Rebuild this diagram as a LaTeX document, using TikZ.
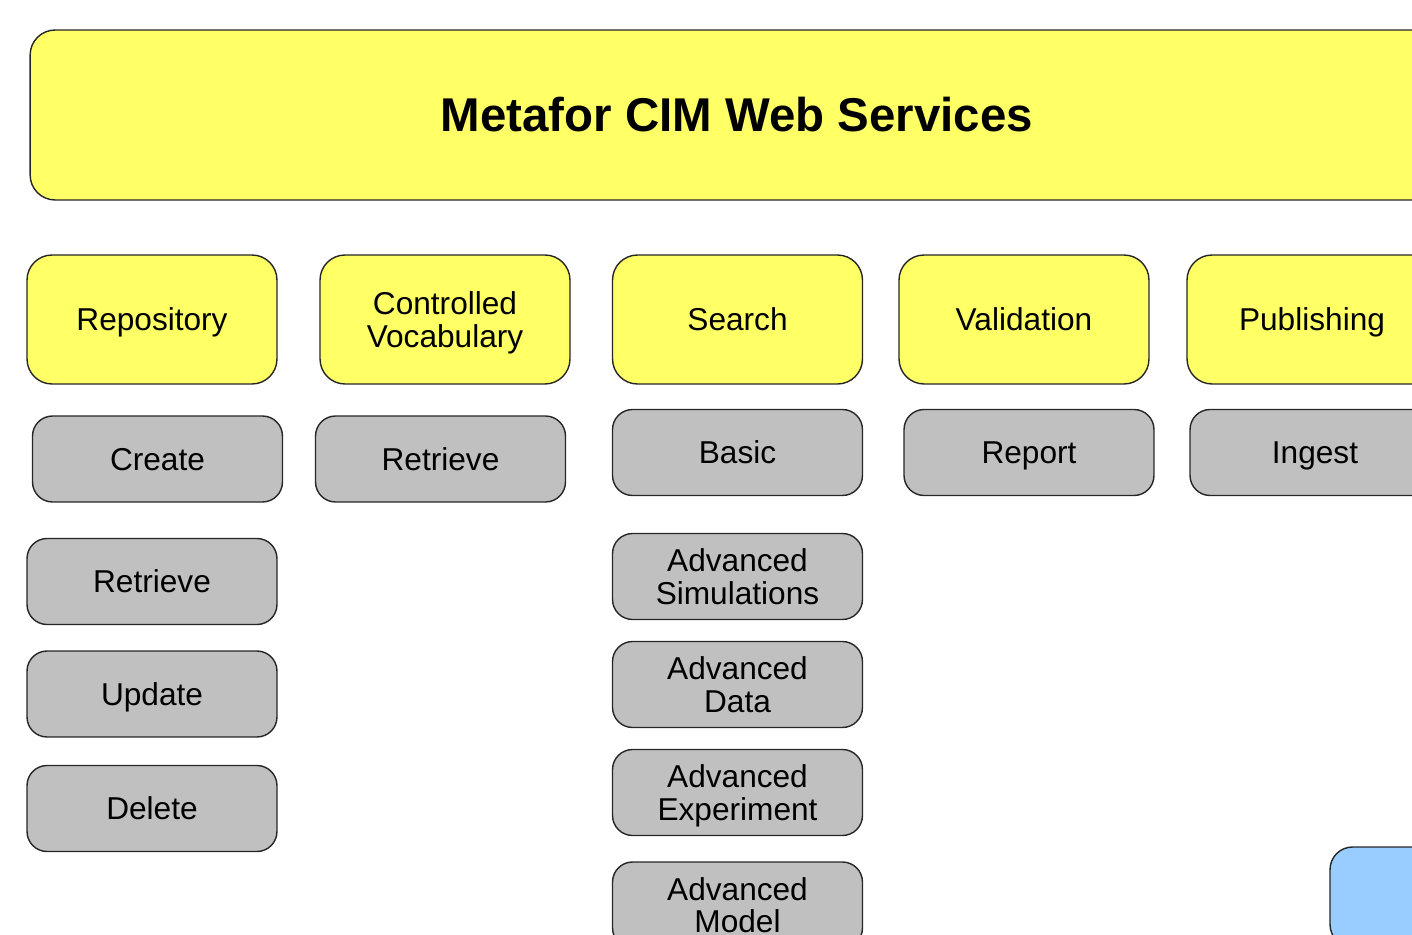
\documentclass[tikz,border=0pt]{standalone}
\usepackage{fontspec}
\setmainfont{Liberation Sans}
\usepackage{xcolor}
\usepackage{tikz}
\definecolor{boxyellow}{HTML}{FFFF66}
\definecolor{boxgray}{HTML}{C0C0C0}
\definecolor{boxblue}{HTML}{99CCFF}
\newcommand{\boxstrut}{\rule{0pt}{12.9pt}}
\tikzstyle{title} = [draw = black!85, line width = 0.8pt, fill = boxyellow, rounded corners = 0.5cm, minimum width = 28.28cm, minimum height = 3.4cm, font = \fontsize{27}{30}\selectfont\bfseries]
\tikzstyle{base} = [draw = black!85, line width = 0.8pt, align = center, inner sep = 0pt, text depth = 0pt, font = \fontsize{18}{18.5}\selectfont, execute at begin node = \boxstrut]
\tikzstyle{service} = [base, fill = boxyellow, rounded corners = 0.5cm, minimum width = 5cm, minimum height = 2.58cm]
\tikzstyle{op} = [base, fill = boxgray, rounded corners = 0.4cm, minimum width = 5cm, minimum height = 1.72cm]
\tikzstyle{extra} = [base, fill = boxblue, rounded corners = 0.45cm, minimum width = 5cm, minimum height = 2cm]

\begin{document}
\begin{tikzpicture}[x = 0.02cm, y = -0.02cm]
	\useasboundingbox (0, 0) rectangle (1412, 935) ;
	
	\node[title] (T) at (737, 115) {Metafor CIM Web Services} ;
	
	\node[service] (Repo) at (152, 319.5) {Repository} ;
	\node[service] (Vocab) at (445, 319.5) {Controlled\\Vocabulary} ;
	\node[service] (Search) at (737.5, 319.5) {Search} ;
	\node[service] (Valid) at (1024, 319.5) {Validation} ;
	\node[service] (Publ) at (1312, 319.5) {Publishing} ;
	
	\node[op] (Create) at (157.5, 459) {Create} ;
	\node[op] (VRetrieve) at (440.5, 459) {Retrieve} ;
	\node[op] (Basic) at (737.5, 452.5) {Basic} ;
	\node[op] (Report) at (1029, 452.5) {Report} ;
	\node[op] (Ingest) at (1315, 452.5) {Ingest} ;
	
	\node[op] (Retrieve) at (152, 581.5) {Retrieve} ;
	\node[op] (Update) at (152, 694) {Update} ;
	\node[op] (Delete) at (152, 808.5) {Delete} ;
	
	\node[op] (AdvSim) at (737.5, 576.5) {Advanced\\Simulations} ;
	\node[op] (AdvData) at (737.5, 684.5) {Advanced\\Data} ;
	\node[op] (AdvExp) at (737.5, 792.5) {Advanced\\Experiment} ;
	\node[op] (AdvModel) at (737.5, 905) {Advanced\\Model} ;
	
	\node[extra] (X) at (1455, 897) {} ;
	
\end{tikzpicture}
\end{document}
